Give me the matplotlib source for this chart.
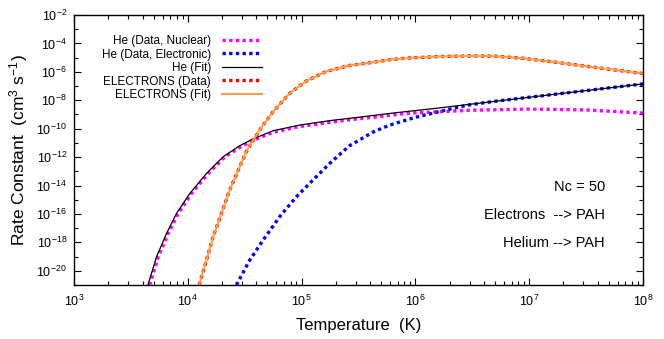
import matplotlib
matplotlib.use("Agg")
import matplotlib.pyplot as plt
import numpy as np
from matplotlib.ticker import FixedLocator, NullFormatter

plt.rcParams['font.family'] = ['Liberation Sans', 'DejaVu Sans']
plt.rcParams['mathtext.fontset'] = 'custom'
plt.rcParams['mathtext.rm'] = 'Liberation Sans'
plt.rcParams['mathtext.it'] = 'Liberation Sans:italic'

# log10(T) and log10(k)
he_nuc_logT = [3.665, 3.74, 3.828, 3.916, 4.033, 4.18, 4.325, 4.47, 4.58, 4.75, 4.98, 5.25, 5.5, 5.63,
               5.86, 6.0, 6.22, 6.5, 7.0, 7.5, 8.0]
he_nuc_logk = [-21.0, -19.02, -17.37, -15.96, -14.56, -13.15, -11.98, -11.25, -10.8, -10.25, -9.85, -9.55,
               -9.3, -9.2, -8.97, -8.88, -8.8, -8.7, -8.62, -8.68, -8.9]

he_ele_logT = [4.427, 4.544, 4.661, 4.807, 4.953, 5.099, 5.246, 5.421, 5.625, 5.772, 6.0, 6.22, 6.45, 6.7,
               7.0, 7.5, 8.0]
he_ele_logk = [-21.0, -19.25, -17.85, -16.2, -14.8, -13.62, -12.45, -11.2, -10.25, -9.75, -9.2, -8.78,
               -8.35, -8.07, -7.79, -7.32, -6.85]

he_fit_logT = [3.65, 3.725, 3.813, 3.901, 4.018, 4.164, 4.31, 4.456, 4.573, 4.748, 4.98, 5.25, 5.5, 5.77,
               6.22, 6.6, 7.0, 7.5, 8.0]
he_fit_logk = [-21.0, -19.02, -17.37, -15.96, -14.56, -13.15, -11.98, -11.2, -10.72, -10.15, -9.75, -9.43,
               -9.2, -8.93, -8.53, -8.17, -7.79, -7.32, -6.85]

el_logT = [4.10, 4.164, 4.222, 4.296, 4.368, 4.456, 4.515, 4.579, 4.661, 4.75, 4.895, 5.04, 5.217, 5.421,
           5.625, 5.77, 5.93, 6.22, 6.5, 6.7, 6.95, 7.24, 7.53, 8.0]
el_logk = [-21.0, -19.25, -17.61, -15.96, -14.32, -12.68, -11.6, -10.75, -9.75, -8.8, -7.51, -6.65, -5.97,
           -5.55, -5.33, -5.15, -5.03, -4.92, -4.88, -4.9, -5.05, -5.33, -5.64, -6.12]


def pw(a):
    return 10.0 ** np.array(a)


fig = plt.figure(figsize=(6.64, 3.39), dpi=100)
ax = fig.add_axes([74 / 664, 54 / 339, 569 / 664, 270 / 339])

dot = (0, (1, 1))
ax.plot(pw(he_nuc_logT), pw(he_nuc_logk), color='#ff00ff', lw=2.4, ls=dot, label='He (Data, Nuclear)')
ax.plot(pw(he_ele_logT), pw(he_ele_logk), color='#0000ff', lw=2.4, ls=dot, label='He (Data, Electronic)')
ax.plot(pw(he_fit_logT), pw(he_fit_logk), color='black', lw=0.9, label='He (Fit)')
ax.plot(pw(el_logT), pw(el_logk), color='#ff0000', lw=2.4, ls=dot, label='ELECTRONS (Data)')
ax.plot(pw(el_logT), pw(el_logk), color='#ffa040', lw=1.5, label='ELECTRONS (Fit)')

ax.set_xscale('log')
ax.set_yscale('log')
ax.set_xlim(1e3, 1e8)
ax.set_ylim(1e-21, 1e-2)

ax.set_yticks([10.0 ** k for k in range(-20, -1, 2)])
ax.yaxis.set_minor_locator(FixedLocator([10.0 ** k for k in range(-21, -2, 2)]))
ax.yaxis.set_minor_formatter(NullFormatter())
ax.set_xticks([10.0 ** k for k in range(3, 9)])

ax.tick_params(which='both', direction='in', top=True, right=True, labelsize=9, width=0.8)
ax.tick_params(which='major', length=5)
ax.tick_params(which='minor', length=3)
ax.tick_params(axis='x', pad=6)
ax.tick_params(axis='y', pad=5)
for s in ax.spines.values():
    s.set_linewidth(1.0)

ax.set_xlabel('Temperature  (K)', fontsize=12, labelpad=7)
ax.set_ylabel('Rate Constant  (cm$^3$ s$^{-1}$)', fontsize=12.5, labelpad=5)

leg = ax.legend(loc='upper right', bbox_to_anchor=(262 / 664, 1 - 35 / 339),
                bbox_transform=fig.transFigure, frameon=False, markerfirst=False,
                fontsize=8.5, handlelength=3.4, handletextpad=0.9, labelspacing=0.13,
                borderpad=0, borderaxespad=0)

fig.text(605 / 664, 1 - 187 / 339, 'Nc = 50', ha='right', va='center', fontsize=10.5)
fig.text(605 / 664, 1 - 215 / 339, 'Electrons  --> PAH', ha='right', va='center', fontsize=10.5)
fig.text(605 / 664, 1 - 243 / 339, 'Helium --> PAH', ha='right', va='center', fontsize=10.5)

fig.savefig('out.png', dpi=100)
